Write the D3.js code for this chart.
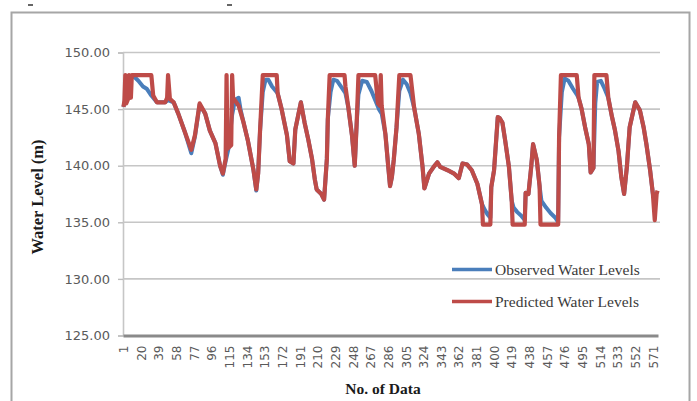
<!DOCTYPE html>
<html>
<head>
<meta charset="utf-8">
<script src="https://cdn.jsdelivr.net/npm/d3@7"></script>
<style>
  html, body { margin: 0; padding: 0; background: #ffffff; }
  svg { display: block; }
</style>
</head>
<body>
<svg id="chart" width="697" height="401"></svg>
<script>
// Number of records on the category axis
const dataCount = 576;

// Y axis ticks (m)
const yTicks = [125, 130, 135, 140, 145, 150];

// Category labels shown along the x axis
const xTickLabels = [1, 20, 39, 58, 77, 96, 115, 134, 153, 172, 191, 210, 229, 248, 267, 286,
  305, 324, 343, 362, 381, 400, 419, 438, 457, 476, 495, 514, 533, 552, 571];

// Predicted water levels: [No. of Data, level (m)]
const predicted = [
  [1,145.2],[2,145.7],[3,148.0],[4,145.5],[6,145.9],[7,148.0],[9,146.0],[10,148.0],
  [31,148.0],[33,146.2],[37,145.6],[46,145.6],[48,146.0],[49,148.0],[51,145.9],[55,145.6],
  [60,144.6],[67,143.0],[74,141.4],[78,142.7],[83,145.5],[89,144.6],[94,143.1],[100,142.0],
  [105,140.0],[108,139.3],[111,140.6],[112,148.0],[113,141.5],[117,141.8],[118,148.0],[119,146.0],
  [125,145.3],[130,143.9],[135,142.2],[141,139.6],[144,137.9],[146,139.3],[148,143.0],[151,148.0],
  [166,148.0],[167,146.4],[171,145.1],[177,142.7],[180,140.4],[184,140.2],[186,143.2],[189,144.4],
  [192,145.6],[196,143.8],[200,142.3],[204,140.6],[207,138.8],[209,137.9],[214,137.5],[217,137.0],
  [220,140.6],[221,144.1],[223,148.0],[239,148.0],[240,147.0],[243,145.2],[247,142.7],[250,140.0],
  [252,143.6],[254,148.0],[272,148.0],[275,145.5],[277,145.3],[278,148.0],[279,145.3],[283,142.8],
  [286,140.0],[288,138.2],[290,139.0],[292,140.5],[295,143.4],[298,148.0],[310,148.0],[314,145.1],
  [319,142.8],[323,139.9],[325,138.0],[330,139.3],[335,139.9],[339,140.3],[342,139.9],[350,139.6],
  [357,139.3],[362,138.9],[366,140.2],[371,140.1],[376,139.6],[382,138.4],[387,136.6],[388,134.8],
  [396,134.8],[397,138.1],[400,139.6],[404,144.3],[406,144.2],[409,143.8],[412,142.2],[416,139.9],
  [419,136.9],[420,134.8],[433,134.8],[434,137.6],[437,137.5],[440,139.9],[442,141.9],[446,140.5],
  [449,138.2],[450,134.8],[469,134.8],[470,142.5],[472,148.0],[489,148.0],[491,146.0],[494,145.1],
  [498,143.4],[502,141.9],[504,139.4],[507,139.8],[508,148.0],[521,148.0],[523,146.0],[527,144.3],
  [530,143.2],[534,141.3],[537,139.0],[540,137.5],[543,139.9],[546,143.4],[552,145.6],[557,144.9],
  [561,143.4],[564,141.9],[568,139.6],[571,137.5],[573,135.2],[575,137.5],[576,137.8]
];

// Observed water levels: [No. of Data, level (m)]
const observed = [
  [1,145.2],[3,145.9],[6,147.6],[12,147.9],[17,147.5],[22,147.0],[26,146.8],[31,146.2],
  [33,146.0],[37,145.6],[46,145.6],[49,145.8],[55,145.6],
  [60,144.6],[67,143.0],[74,141.1],[78,142.6],[83,145.4],[89,144.6],[94,143.1],[100,142.0],
  [105,140.0],[108,139.2],[111,140.4],[114,141.5],[118,144.5],[121,145.8],[125,146.0],[127,145.0],
  [130,143.9],[135,142.2],[141,139.6],[144,137.8],[146,139.3],[148,143.0],[151,146.5],[154,147.6],
  [157,147.6],[161,147.0],[167,146.4],[171,145.1],[177,142.7],[180,140.4],[184,140.2],[186,143.2],
  [189,144.4],[192,145.6],[196,143.8],[200,142.3],[204,140.6],[207,138.8],[209,137.9],[214,137.5],
  [217,137.0],[220,140.6],[221,144.1],[224,146.5],[227,147.6],[231,147.5],[236,146.9],[240,146.4],
  [243,145.2],[247,142.7],[250,140.0],[252,143.6],[254,146.3],[258,147.5],[263,147.4],[268,146.6],
  [272,145.8],[276,145.0],[279,144.6],[283,142.8],[286,140.0],[288,138.2],[290,139.0],[292,140.5],
  [295,143.4],[298,146.6],[302,147.6],[306,147.2],[310,146.4],[314,145.1],
  [319,142.8],[323,139.9],[325,138.0],[330,139.3],[335,139.9],[339,140.3],[342,139.9],[350,139.6],
  [357,139.3],[362,138.9],[366,140.2],[371,140.1],[376,139.6],[382,138.4],[387,136.6],[390,136.1],
  [393,135.7],[396,135.4],[397,138.1],[400,139.6],[404,144.3],[406,144.2],[409,143.8],[412,142.2],
  [416,139.9],[419,136.9],[421,136.3],[425,135.9],[429,135.6],[433,135.2],[434,137.6],[437,137.5],
  [440,139.9],[442,141.9],[446,140.5],[449,138.2],[451,136.9],[456,136.3],[461,135.8],[466,135.4],
  [469,135.0],[470,142.5],[473,146.5],[476,147.7],[480,147.5],[485,146.8],[489,146.3],[491,146.0],
  [494,145.1],[498,143.4],[502,141.9],[504,139.4],[507,139.8],[509,145.5],[511,147.4],[515,147.5],
  [519,146.8],[523,146.0],[527,144.3],[530,143.2],[534,141.3],[537,139.0],[540,137.5],[543,139.9],
  [546,143.4],[552,145.6],[557,144.9],[561,143.4],[564,141.9],[568,139.6],[571,137.5],[573,137.0],
  [576,137.0]
];

const seriesNames = ["Observed Water Levels", "Predicted Water Levels"];
const seriesColors = ["#4a7ebb", "#be4b48"];

const svg = d3.select("#chart");
const plot = { left: 123, right: 658, top: 52.5, bottom: 335.5 };

// Outer chart frame
svg.append("rect")
  .attr("x", 11.5).attr("y", 12.5)
  .attr("width", 678).attr("height", 400)
  .attr("fill", "#ffffff")
  .attr("stroke", "#a6a6a6").attr("stroke-width", 2);

// Small marks above the frame
svg.append("rect").attr("x", 28).attr("y", 4).attr("width", 5).attr("height", 2).attr("fill", "#666");
svg.append("rect").attr("x", 227).attr("y", 4).attr("width", 5).attr("height", 2).attr("fill", "#666");

const x = d3.scaleLinear().domain([0.5, dataCount + 0.5]).range([plot.left, plot.right]);
const y = d3.scaleLinear().domain([125, 150]).range([plot.bottom, plot.top]);

// Horizontal gridlines
svg.append("g")
  .selectAll("line")
  .data(yTicks.filter(t => t !== 125))
  .join("line")
  .attr("x1", plot.left).attr("x2", plot.right + 2)
  .attr("y1", d => y(d)).attr("y2", d => y(d))
  .attr("stroke", "#c6c6c6").attr("stroke-width", 1.6);

// Y axis
const yAxis = svg.append("g")
  .attr("transform", `translate(${plot.left},0)`)
  .call(d3.axisLeft(y).tickValues(yTicks).tickFormat(d3.format(".2f")).tickSize(5).tickPadding(8));
yAxis.select(".domain").attr("stroke", "#c6c6c6").attr("stroke-width", 1.6);
yAxis.selectAll(".tick line").attr("stroke", "#bdbdbd").attr("stroke-width", 1.4);
yAxis.selectAll(".tick text")
  .attr("fill", "#5a5a5a")
  .style("font-family", "'DejaVu Sans', sans-serif")
  .style("font-size", "13px");

// X axis
const xAxis = svg.append("g")
  .attr("transform", `translate(0,${plot.bottom})`)
  .call(d3.axisBottom(x).tickValues(xTickLabels).tickSize(0).tickFormat(d3.format("d")));
xAxis.select(".domain").attr("stroke", "#8a8a8a").attr("stroke-width", 3.2);
xAxis.selectAll(".tick text")
  .attr("fill", "#5a5a5a")
  .style("font-family", "'DejaVu Sans', sans-serif")
  .style("font-size", "12px")
  .attr("text-anchor", "end")
  .attr("dy", "0.35em")
  .attr("transform", "translate(0,10) rotate(-90)")
  .attr("x", 0).attr("y", 0);

// Series lines
const line = d3.line().x(d => x(d[0])).y(d => y(d[1]));
svg.append("path")
  .datum(observed)
  .attr("d", line)
  .attr("fill", "none")
  .attr("stroke", seriesColors[0]).attr("stroke-width", 4)
  .attr("stroke-linejoin", "round");
svg.append("path")
  .datum(predicted)
  .attr("d", line)
  .attr("fill", "none")
  .attr("stroke", seriesColors[1]).attr("stroke-width", 4.2)
  .attr("stroke-linejoin", "round");

// Axis titles
svg.append("text")
  .attr("x", 383).attr("y", 394)
  .attr("text-anchor", "middle")
  .style("font-family", "'Liberation Serif', serif")
  .style("font-weight", "bold")
  .style("font-size", "15.5px")
  .attr("fill", "#1a1a1a")
  .text("No. of Data");
svg.append("text")
  .attr("transform", "translate(43,197) rotate(-90)")
  .attr("text-anchor", "middle")
  .style("font-family", "'Liberation Serif', serif")
  .style("font-weight", "bold")
  .style("font-size", "16.5px")
  .attr("fill", "#1a1a1a")
  .text("Water Level (m)");

// Legend
const legend = svg.append("g");
const legendRows = [269.5, 301.5];
seriesNames.forEach((name, i) => {
  const ly = legendRows[i];
  legend.append("line")
    .attr("x1", 452).attr("x2", 492)
    .attr("y1", ly).attr("y2", ly)
    .attr("stroke", seriesColors[i]).attr("stroke-width", 3.6);
  legend.append("text")
    .attr("x", 495).attr("y", ly + 5)
    .style("font-family", "'Liberation Serif', serif")
    .style("font-size", "15.5px")
    .attr("fill", "#3a3a3a")
    .text(name);
});
</script>
</body>
</html>
